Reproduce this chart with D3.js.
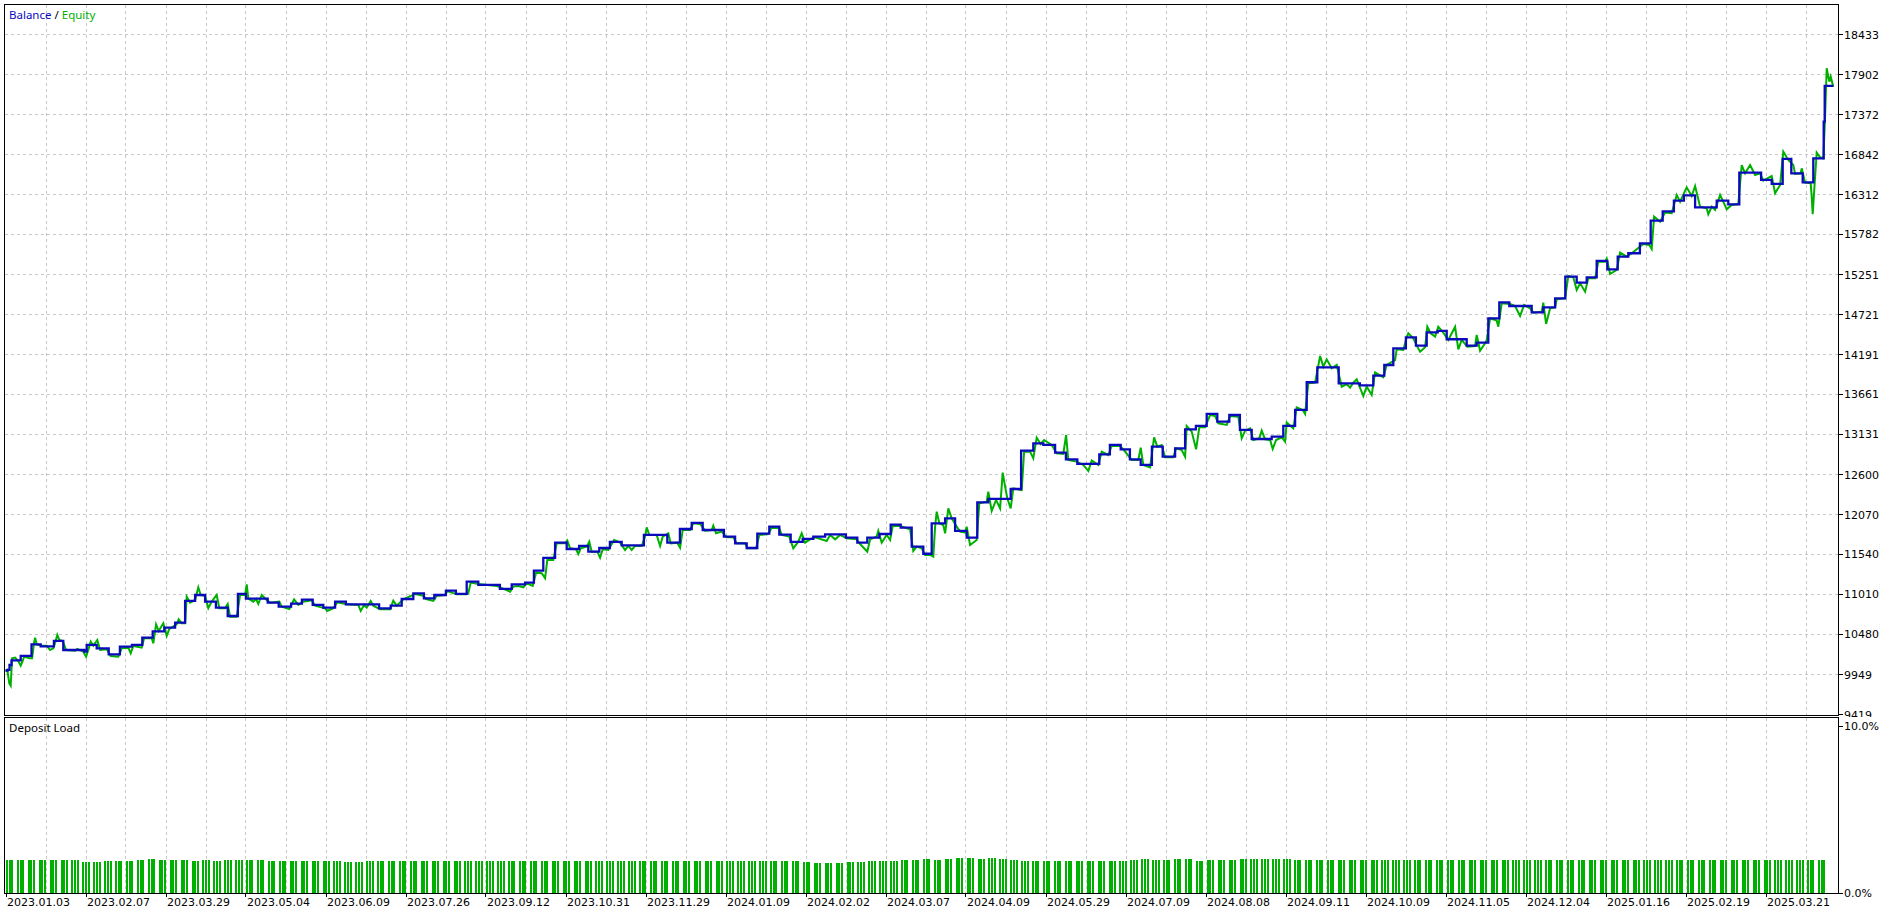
<!DOCTYPE html>
<html><head><meta charset="utf-8">
<script src="https://cdn.jsdelivr.net/npm/d3@7"></script>
<style>
html,body{margin:0;padding:0;background:#fff;}
svg{display:block;}
text{font-family:"DejaVu Sans",sans-serif;font-size:11px;fill:#000;}
.word{font-family:"Noto Sans",sans-serif;font-size:11.5px;}
</style></head><body>
<svg id="c" width="1893" height="913"></svg>
<script>
// ---------- DATA ----------
const dateLabels = ["2023.01.03","2023.02.07","2023.03.29","2023.05.04","2023.06.09","2023.07.26","2023.09.12","2023.10.31","2023.11.29","2024.01.09","2024.02.02","2024.03.07","2024.04.09","2024.05.29","2024.07.09","2024.08.08","2024.09.11","2024.10.09","2024.11.05","2024.12.04","2025.01.16","2025.02.19","2025.03.21"];
const dateSteps = [0,40,80,120,160,200,240,280,320,360,400,440,480,520,560,600,640,680,720,760,800,840,880];
const yTicks = [9419,9949,10480,11010,11540,12070,12600,13131,13661,14191,14721,15251,15782,16312,16842,17372,17902,18433];
const loadTicks = [0,10];

const balance = [[0,10000],[1,10010],[2,10075],[3,10137],[7.6,10195],[13,10349],[17.6,10323],[24.2,10394],[28.9,10274],[39.4,10252],[40.6,10341],[45.6,10296],[51.6,10217],[57.2,10318],[63.2,10341],[68.4,10438],[73.6,10522],[79.4,10570],[84.8,10637],[89.8,10924],[94.8,11003],[99.8,10915],[105.2,10835],[111.1,10725],[116.2,11017],[120.2,10955],[131.1,10902],[136.6,10849],[142.8,10889],[148.2,10942],[153.6,10871],[158.9,10835],[164.8,10915],[170.2,10880],[186.8,10827],[192.6,10862],[198.1,10950],[203.9,11025],[209.2,10959],[214.4,11003],[220.2,11061],[225.2,11017],[230.6,11180],[236.4,11136],[247.2,11083],[253.1,11145],[259.8,11167],[264.2,11326],[268.9,11494],[274.8,11697],[280.6,11613],[286.8,11653],[291.4,11578],[296.9,11626],[302.2,11706],[308.1,11662],[319.2,11799],[330.9,11697],[337.2,11878],[343.1,11958],[348.6,11865],[359.2,11777],[364.8,11688],[370.6,11626],[375.9,11816],[381.9,11909],[386.9,11803],[392.6,11706],[398.6,11746],[403.9,11777],[409.8,11808],[420.2,11763],[425.9,11697],[430.9,11763],[436.9,11812],[442.6,11936],[447.6,11896],[453.1,11644],[458.9,11550],[463.1,11953],[469.8,12020],[474.8,11852],[480.6,11763],[485.9,12232],[491.4,12276],[502.6,12408],[507.8,12917],[513.9,13014],[518.9,12992],[524.8,12890],[530.2,12802],[535.9,12740],[546.9,12868],[552.2,12992],[557.6,12934],[562.2,12802],[567.6,12727],[573.2,12970],[578.6,12837],[584.8,12948],[589.8,13199],[595.2,13244],[600.6,13403],[605.9,13301],[611.9,13389],[617.2,13191],[623.1,13071],[633.1,13102],[638.9,13244],[644.8,13456],[650.6,13823],[655.9,14021],[666.6,13809],[677.2,13783],[683.9,13911],[689.4,14052],[693.9,14273],[700.2,14419],[705.2,14308],[710.6,14485],[716.1,14503],[720.6,14393],[730.6,14308],[735.6,14348],[741.4,14671],[746.9,14883],[751.9,14834],[763.1,14750],[768.9,14816],[774.8,14936],[779.9,15223],[785.6,15144],[790.6,15214],[795.6,15431],[800.9,15320],[806.1,15488],[811.4,15533],[817.2,15665],[822.6,15965],[828.6,16089],[834.2,16231],[839.2,16301],[844.8,16142],[855.6,16231],[861.4,16182],[866.9,16602],[877.8,16505],[883.1,16452],[888.6,16783],[892.9,16593],[898.6,16474],[903.9,16792],[909.1,17278],[909.6,17751],[913.9,17751]];

const equity = [[0,10000],[0.9,10009],[1.9,9832],[2.6,9801],[3.3,10164],[4.8,10173],[6.4,10128],[7.6,10067],[8.6,10128],[9.3,10186],[11.9,10164],[13.3,10164],[14.3,10376],[14.8,10438],[15.6,10349],[18.1,10332],[20.6,10332],[22.3,10274],[23.9,10296],[24.9,10376],[25.9,10473],[26.9,10407],[28.6,10394],[30.3,10274],[34.8,10265],[35.9,10287],[38.9,10252],[40.3,10186],[41.6,10296],[42.6,10385],[43.9,10332],[45.9,10407],[47.3,10274],[50.6,10283],[52.6,10195],[56.4,10186],[58.1,10296],[61.4,10305],[62.6,10230],[63.9,10327],[68.1,10305],[69.3,10429],[73.1,10429],[73.9,10363],[75.3,10614],[76.6,10526],[78.9,10628],[80.6,10460],[81.9,10553],[85.6,10614],[86.6,10681],[88.1,10628],[89.8,10628],[90.6,10981],[92.3,10902],[94.8,10937],[96.4,11105],[97.6,11003],[99.8,10994],[101.4,10827],[103.1,10915],[105.6,11003],[106.9,10827],[109.8,10827],[111.1,10884],[112.3,10716],[115.6,10716],[117.3,11003],[119.8,11003],[120.6,11145],[121.4,10959],[123.9,10915],[125.3,10950],[126.4,10884],[128.1,11003],[130.6,10937],[132.3,10902],[136.9,10915],[138.1,10849],[141.9,10818],[144.3,10946],[146.4,10871],[148.9,10915],[153.1,10933],[154.8,10862],[159.8,10827],[160.9,10791],[163.9,10827],[165.9,10906],[170.6,10880],[176.4,10871],[177.6,10791],[179.3,10871],[180.6,10835],[182.6,10924],[183.9,10862],[187.3,10813],[192.3,10813],[193.9,10928],[195.6,10862],[198.9,10946],[204.8,11017],[208.9,10994],[210.3,10950],[213.9,10924],[215.6,10994],[219.8,11003],[220.9,11056],[225.6,11012],[230.6,11012],
[231.4,11025],[232.6,11167],[236.4,11149],[245.6,11123],[252.3,11047],[253.9,11114],[256.4,11123],[258.9,11105],[260.6,11158],[263.6,11123],[265.3,11299],[268.1,11291],[269.8,11224],[270.9,11467],[273.9,11467],[275.6,11688],[279.8,11688],[280.9,11724],[282.3,11622],[285.3,11609],[286.4,11547],[287.6,11622],[290.6,11644],[291.9,11710],[293.1,11578],[295.9,11578],[297.3,11498],[298.6,11609],[301.4,11600],[304.3,11732],[307.3,11697],[309.8,11600],[311.4,11653],[313.1,11600],[314.8,11653],[318.1,11653],[319.8,11777],[320.6,11900],[321.9,11799],[325.6,11799],[327.3,11653],[328.6,11777],[331.4,11821],[332.6,11688],[335.9,11697],[337.3,11631],[338.6,11865],[342.3,11865],[343.9,11953],[347.3,11945],[349.8,11856],[353.1,11865],[353.9,11922],[355.3,11821],[358.1,11843],[360.6,11768],[363.9,11768],[365.6,11688],[369.8,11688],[370.9,11622],[375.3,11622],[376.9,11799],[381.4,11812],[383.1,11896],[386.9,11887],[388.1,11799],[391.9,11777],[393.9,11622],[396.4,11710],[398.1,11821],[399.8,11697],[402.3,11741],[404.8,11768],[410.6,11719],[412.3,11799],[414.8,11741],[417.3,11799],[420.6,11755],[425.6,11741],[427.3,11679],[430.9,11578],[432.3,11741],[435.6,11777],[436.4,11852],[438.1,11697],[440.6,11799],[442.3,11732],[443.6,11918],[447.3,11918],[452.3,11874],[453.9,11587],[455.6,11644],[458.1,11622],[459.8,11534],[462.3,11534],
[463.9,11511],[464.8,11909],[465.6,12108],[466.9,11953],[468.9,11931],[469.8,11821],[471.4,12152],[473.1,12020],[475.6,11909],[477.3,11843],[479.8,11830],[480.6,11909],[482.3,11666],[485.6,11733],[486.9,12218],[490.6,12241],[491.4,12373],[493.1,12117],[495.3,12263],[497.3,12152],[498.6,12625],[499.8,12439],[500.9,12285],[502.6,12152],[503.9,12417],[508.1,12395],[509.3,12903],[512.3,12903],[513.9,12815],[515.6,13089],[517.6,13005],[519.3,13058],[523.1,12992],[525.6,12881],[528.9,12872],[530.3,13124],[531.4,12793],[535.6,12771],[538.9,12727],[541.4,12647],[543.1,12784],[546.4,12727],[548.1,12903],[551.4,12859],[553.1,12978],[557.3,12978],[558.9,12934],[563.1,12793],[566.4,12793],[567.6,12956],[568.9,12727],[572.3,12696],[574.3,13093],[575.9,12970],[578.1,12992],[579.8,12828],[583.9,12828],[585.3,12948],[588.1,12925],[589.8,12837],[590.6,13244],[593.1,13169],[595.3,12934],[596.9,13226],[599.8,13226],[602.3,13389],[604.8,13376],[606.4,13279],[610.6,13257],[612.3,13376],[616.4,13367],[618.1,13080],[619.8,13182],[622.3,13213],[623.9,13058],[626.9,13080],[628.1,13182],[629.8,13067],[632.3,13058],[633.6,12939],[635.3,13058],[638.1,13093],[639.8,13036],[640.6,13288],[643.9,13213],[645.6,13491],[648.6,13456],[649.8,13403],[651.4,13809],[654.8,13818],[657.3,14172],[658.9,14030],[660.6,14127],[663.1,14008],[665.6,14052],[668.1,13765],[670.6,13800],[672.3,13752],[673.9,13818],[675.6,13862],[678.9,13641],[680.6,13765],[683.1,13655],[684.8,13955],[688.9,13889],[690.6,14052],
[694.8,14118],[695.6,14260],[698.9,14251],[700.6,14419],[701.4,14472],[703.9,14406],[705.9,14295],[707.3,14229],[709.8,14286],[710.9,14560],[712.6,14472],[714.8,14428],[716.4,14560],[718.9,14481],[721.4,14384],[724.8,14560],[726.4,14260],[728.1,14384],[730.9,14295],[734.8,14304],[735.6,14450],[737.3,14242],[739.8,14339],[740.6,14384],[742.3,14671],[745.6,14640],[746.4,14560],[748.1,14870],[752.3,14861],[754.8,14834],[757.3,14702],[759.3,14848],[762.3,14803],[763.9,14746],[768.1,14759],[768.9,14879],[770.3,14596],[772.3,14803],[774.8,14816],[775.6,14923],[779.8,14936],[781.4,15232],[783.9,15214],[785.6,15046],[787.3,15135],[789.8,15024],[791.4,15201],[794.8,15201],[796.4,15422],[799.8,15422],[800.6,15462],[802.3,15258],[805.6,15312],[807.3,15541],[810.6,15488],[813.1,15533],[815.6,15586],[818.9,15656],[821.9,15643],[823.1,15590],[824.3,16019],[827.3,15952],[829.8,16072],[833.1,16063],[835.6,16306],[837.3,16217],[840.6,16407],[843.1,16292],[844.8,16425],[847.3,16151],[850.6,16129],[851.4,16050],[853.1,16151],[854.8,16107],[857.3,16306],[858.9,16217],[860.6,16116],[863.1,16173],[866.4,16186],[868.1,16703],[869.8,16593],[872.3,16703],[874.8,16571],[877.3,16593],[878.9,16496],[883.1,16558],[884.8,16328],[887.3,16438],[888.9,16880],[891.4,16770],[893.9,16703],[894.8,16584],[897.6,16593],[898.1,16659],[899.8,16469],[902.6,16461],[903.1,16284],[903.6,16050],[904.8,16549],[905.6,16867],[907.3,16805],[908.9,16792],[909.8,17344],[910.6,17985],[911.9,17808],[912.6,17874],[913.9,17742]];

// deposit load (%) per group of three deals
const depositLoad = [1.98,1.98,1.98,1.98,1.98,1.98,1.98,1.86,1.86,1.92,1.92,1.89,1.98,2.04,1.98,1.98,1.98,1.92,1.98,1.92,
1.98,1.98,1.98,1.98,1.92,1.92,1.92,1.92,1.92,1.92,1.92,1.86,1.86,1.89,1.92,1.92,
1.92,1.92,1.92,1.92,1.92,1.92,1.92,1.92,1.92,1.92,1.92,1.92,1.92,1.92,1.92,1.92,1.92,1.92,1.92,1.92,1.92,1.92,1.92,1.92,1.92,1.92,1.92,1.92,1.92,1.92,1.92,1.92,1.92,1.92,1.92,1.92,1.92,
1.86,1.80,1.80,1.80,1.86,1.86,1.92,1.92,1.92,1.98,1.98,2.04,1.98,2.04,2.11,2.08,2.04,2.08,2.04,1.98,
1.92,1.92,1.92,1.92,1.92,1.92,1.92,1.92,1.92,1.92,1.98,2.02,1.98,1.98,2.02,2.02,1.92,1.98,1.98,1.98,2.04,2.04,2.04,2.04,2.04,
2.0,2.0,2.0,2.0,2.0,2.0,2.0,2.0,2.0,2.0,2.0,2.0,2.0,2.0,2.0,2.0,2.0,2.0,2.0,2.0,2.0,2.0,2.0,2.0,2.0,2.0,2.0,2.0,2.0,2.0,2.0,2.0,2.0,2.0,2.0,2.0,2.0,2.0,2.0,2.0,2.0,2.0,2.0,2.0,2.0,2.0,2.0,2.0,2.0];

// ---------- LAYOUT ----------
const C = {blue:"#0a0abc", green:"#00b000", grid:"#c8c8c8"};
const L=4.5, R=1838.5, T=4.5, MB=715.5, DT=717.5, DB=893.5;
const svg = d3.select("#c");

const x = d3.scaleLinear().domain([0,880]).range([5.5,1765.5]);
const y = d3.scaleLinear().domain([9419,18433]).range([714.5,34.5]);
const yl = d3.scaleLinear().domain([0,10]).range([893,726]);

const defs = svg.append("defs");
defs.append("clipPath").attr("id","cm").append("rect").attr("x",5).attr("y",5).attr("width",R-5).attr("height",MB-5);
defs.append("clipPath").attr("id","cy").append("rect").attr("x",1839).attr("y",0).attr("width",60).attr("height",717);

// grid
const vgrid = d3.range(20, 920, 20);
const gg = svg.append("g").attr("stroke",C.grid).attr("stroke-dasharray","3,3").attr("shape-rendering","crispEdges");
gg.selectAll(".vm").data(vgrid).join("line").attr("x1",d=>Math.round(x(d))+0.5).attr("x2",d=>Math.round(x(d))+0.5).attr("y1",T).attr("y2",MB);
gg.selectAll(".vd").data(vgrid).join("line").attr("x1",d=>Math.round(x(d))+0.5).attr("x2",d=>Math.round(x(d))+0.5).attr("y1",DT).attr("y2",DB);
gg.selectAll(".h").data(yTicks.slice(1)).join("line").attr("x1",L).attr("x2",R).attr("y1",d=>Math.round(y(d)-0.5)+0.5).attr("y2",d=>Math.round(y(d)-0.5)+0.5);

// deposit load bars
const xg = d3.scaleBand().domain(d3.range(depositLoad.length)).range([6,1829]);
const xb = d3.scaleBand().domain([0,1,2]).range([0,7.3]).paddingInner(0.25);
const bars = [];
depositLoad.forEach((v,i)=>{ [0,1,2].forEach(j=>bars.push({i,j,v})); });
svg.append("g").attr("fill",C.green).attr("shape-rendering","crispEdges")
  .selectAll("rect").data(bars).join("rect")
  .attr("x",d=>Math.round(xg(d.i)+xb(d.j)))
  .attr("width",2)
  .attr("y",d=>Math.round(yl(d.v)))
  .attr("height",d=>Math.round(yl(0))-Math.round(yl(d.v)));

// lines
const plot = svg.append("g").attr("clip-path","url(#cm)");
plot.append("path").datum(equity)
  .attr("d", d3.line().x(d=>x(d[0])).y(d=>y(d[1])))
  .attr("fill","none").attr("stroke",C.green).attr("stroke-width",2).attr("stroke-linejoin","miter");
plot.append("path").datum(balance)
  .attr("d", d3.line().curve(d3.curveStepAfter).x(d=>x(d[0])).y(d=>y(d[1])))
  .attr("fill","none").attr("stroke",C.blue).attr("stroke-width",2.3).attr("stroke-linejoin","miter");

// frames
const fr = svg.append("g").attr("fill","none").attr("stroke","#000").attr("stroke-width",1).attr("shape-rendering","crispEdges");
fr.append("rect").attr("x",L).attr("y",T).attr("width",R-L).attr("height",MB-T);
fr.append("rect").attr("x",L).attr("y",DT).attr("width",R-L).attr("height",DB-DT);

// right axis (main)
const ay = svg.append("g");
ay.selectAll("line").data(yTicks).join("line")
  .attr("x1",R).attr("x2",R+4).attr("y1",d=>Math.round(y(d)-0.5)+0.5).attr("y2",d=>Math.round(y(d)-0.5)+0.5)
  .attr("stroke","#000").attr("shape-rendering","crispEdges");
ay.append("g").attr("clip-path","url(#cy)").selectAll("text").data(yTicks).join("text")
  .attr("x",1844).attr("y",d=>y(d)+4).text(d=>d);

// right axis (deposit load)
const al = svg.append("g");
al.selectAll("line").data(loadTicks).join("line")
  .attr("x1",R).attr("x2",R+4).attr("y1",d=>Math.round(yl(d))+0.5).attr("y2",d=>Math.round(yl(d))+0.5)
  .attr("stroke","#000").attr("shape-rendering","crispEdges");
al.selectAll("text").data(loadTicks).join("text")
  .attr("x",1844).attr("y",d=>yl(d)+4).text(d=>d.toFixed(1)+"%");

// bottom axis
const ax = svg.append("g");
ax.selectAll("line").data(dateSteps).join("line")
  .attr("x1",d=>Math.round(x(d))+0.5).attr("x2",d=>Math.round(x(d))+0.5).attr("y1",DB).attr("y2",DB+3)
  .attr("stroke","#000").attr("shape-rendering","crispEdges");
ax.selectAll("text").data(dateSteps).join("text")
  .attr("x",d=>x(d)+1.5).attr("y",906).text((d,i)=>dateLabels[i]);

// legend & panel title
const lg = svg.append("text").attr("class","word").attr("x",9).attr("y",19);
lg.append("tspan").attr("fill",C.blue).text("Balance");
lg.append("tspan").attr("fill","#000").text(" / ");
lg.append("tspan").attr("fill",C.green).text("Equity");
svg.append("text").attr("class","word").attr("x",9).attr("y",731.5).text("Deposit Load");
</script>
</body></html>
